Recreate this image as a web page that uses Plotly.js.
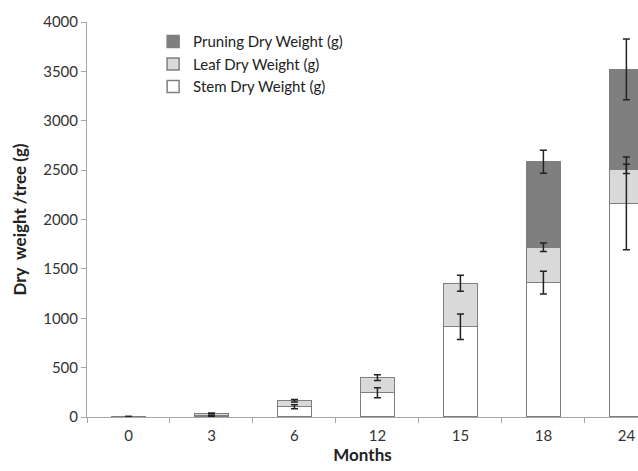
<!DOCTYPE html>
<html>
<head>
<meta charset="utf-8">
<script src="https://cdn.plot.ly/plotly-3.0.1.min.js"></script>
<style>html,body{margin:0;padding:0;background:#fff;}#chart{width:638px;height:471px;}</style>
</head>
<body>
<div id="chart"></div>
<script>
const months = ['0', '3', '6', '12', '15', '18', '24'];
const stemWeight = [3, 10, 104, 246, 914, 1360, 2164];
const leafWeight = [2, 25, 61, 152, 440, 359, 348];
const pruningWeight = [0, 0, 0, 0, 0, 866, 1009];
const stemErr = [1, 3, 20, 50, 130, 115, 470];
const leafErr = [1, 5, 13, 29, 81, 42, 47];
const pruningErr = [0, 0, 0, 0, 0, 117, 308];

const stemTop = stemWeight.slice();
const leafTop = stemWeight.map((s, i) => s + leafWeight[i]);
const pruneTop = leafTop.map((l, i) => pruningWeight[i] > 0 ? l + pruningWeight[i] : null);

const outline = {color: '#7f7f7f', width: 1.5};
const fontFam = 'Lato, "Open Sans", sans-serif';

const bars = [
  {type: 'bar', name: 'Stem Dry Weight (g)', x: months, y: stemWeight,
   marker: {color: '#ffffff', line: outline}},
  {type: 'bar', name: 'Leaf Dry Weight (g)', x: months, y: leafWeight,
   marker: {color: '#d9d9d9', line: outline}},
  {type: 'bar', name: 'Pruning Dry Weight (g)', x: months, y: pruningWeight,
   marker: {color: '#7f7f7f', line: outline}}
];

function errTrace(tops, errs) {
  return {type: 'scatter', mode: 'markers', x: months, y: tops, showlegend: false, hoverinfo: 'skip',
    marker: {size: 1, color: 'rgba(0,0,0,0)'},
    error_y: {type: 'data', array: errs, visible: true, color: '#222222', thickness: 1.5, width: 3.5}};
}

const traces = bars.concat([
  errTrace(stemTop, stemErr),
  errTrace(leafTop, leafErr),
  errTrace(pruneTop, pruningErr)
]);

const layout = {
  width: 638, height: 471,
  margin: {l: 87, r: 0, t: 22, b: 54, pad: 0},
  paper_bgcolor: '#ffffff', plot_bgcolor: '#ffffff',
  barmode: 'stack', bargap: 0.59,
  font: {family: fontFam, color: '#333333', size: 15},
  showlegend: true,
  legend: {x: 0.12, y: 0.992, xanchor: 'left', yanchor: 'top', traceorder: 'reversed',
    font: {family: fontFam, size: 15, color: '#222222'}, bgcolor: 'rgba(0,0,0,0)'},
  xaxis: {type: 'category', range: [-0.5, 6.14], showgrid: false, zeroline: false,
    showline: true, linecolor: '#a6a6a6', linewidth: 1,
    ticks: 'outside', tickson: 'boundaries', ticklen: 5, tickcolor: '#a6a6a6',
    ticklabelstandoff: 5,
    tickfont: {family: fontFam, size: 15, color: '#333333'},
    title: {text: '<b>Months</b>', font: {family: fontFam, size: 17, color: '#222222'}, standoff: 6}},
  yaxis: {range: [0, 4000], dtick: 500, showgrid: false, zeroline: false,
    showline: true, linecolor: '#a6a6a6', linewidth: 1,
    ticks: 'outside', ticklen: 5, tickcolor: '#a6a6a6',
    tickfont: {family: fontFam, size: 15, color: '#333333'},
    title: {text: '<b>Dry  weight /tree (g)</b>', font: {family: fontFam, size: 17, color: '#222222'}, standoff: 12}}
};

Plotly.newPlot('chart', traces, layout, {displayModeBar: false, staticPlot: true});
</script>
</body>
</html>
